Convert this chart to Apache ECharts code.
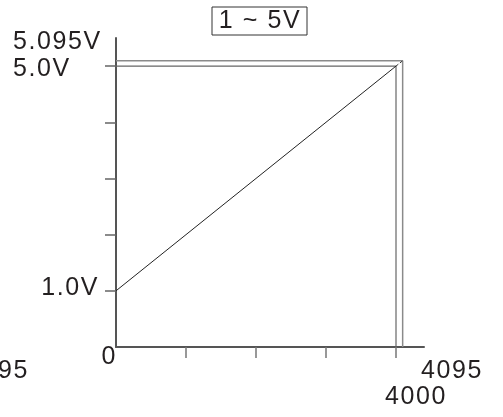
<!DOCTYPE html>
<html>
<head>
<meta charset="utf-8">
<script src="https://cdn.jsdelivr.net/npm/echarts@6/dist/echarts.min.js"></script>
<style>html,body{margin:0;padding:0;background:#fff;}#c{width:503px;height:417px;}</style>
</head>
<body>
<div id="c"></div>
<script>
// ---- data ----
const titleText = '1 ~ 5V';
const lineX = [0, 4000];
const lineY = [1.0, 5.0];
const overX = [4000, 4095];
const overY = [5.0, 5.095];
const fullScaleX = 4000, fullScaleY = 5.0;
const maxX = 4095, maxY = 5.095;
const xTickValues = [1000, 2000, 3000, 4000];
const yTickValues = [1, 2, 3, 4, 5];
const yLabels = { low: '1.0V', full: '5.0V', max: '5.095V' };
const xLabels = { zero: '0', full: '4000', max: '4095', clipped: '95' };

// letter spacing for text drawn on canvas
const _ft = CanvasRenderingContext2D.prototype.fillText;
CanvasRenderingContext2D.prototype.fillText = function (t, x, y) {
  this.letterSpacing = '1.6px';
  return _ft.call(this, t, x, y);
};

const FONT = 'Liberation Sans';
const TXT = '#231f20';
const chart = echarts.init(document.getElementById('c'), null, { renderer: 'canvas' });
const zip = (a, b) => a.map((v, i) => [v, b[i]]);

chart.setOption({
  animation: false,
  grid: { left: 116, right: 79, top: 38, bottom: 70, containLabel: false },
  xAxis: {
    type: 'value', min: 0, max: 4400,
    axisLine: { show: true, lineStyle: { color: '#555', width: 2 } },
    axisTick: { show: true, customValues: xTickValues, length: 11, inside: false, lineStyle: { color: '#777', width: 1.5 } },
    axisLabel: { show: false },
    splitLine: { show: false }
  },
  yAxis: {
    type: 'value', min: 0, max: 5.5,
    axisLine: { show: true, lineStyle: { color: '#555', width: 2 } },
    axisTick: { show: true, customValues: yTickValues, length: 11, inside: false, lineStyle: { color: '#666', width: 1.5 } },
    axisLabel: { show: false },
    splitLine: { show: false }
  },
  series: [
    { type: 'line', data: [[0, maxY], [maxX, maxY], [maxX, 0]], symbol: 'none',
      lineStyle: { color: '#8a8a8a', width: 1.5 }, z: 1 },
    { type: 'line', data: [[0, fullScaleY], [fullScaleX, fullScaleY], [fullScaleX, 0]], symbol: 'none',
      lineStyle: { color: '#666', width: 1.2 }, z: 2 },
    { type: 'line', data: zip(lineX, lineY), symbol: 'none',
      lineStyle: { color: '#222', width: 1 }, z: 3 },
    { type: 'line', data: zip(overX, overY), symbol: 'none',
      lineStyle: { color: '#333', width: 1, type: [3, 2] }, z: 3 }
  ]
});

const P = (x, y) => chart.convertToPixel({ gridIndex: 0 }, [x, y]);
const o = P(0, 0), pLow = P(0, lineY[0]), pFull = P(fullScaleX, fullScaleY);
const ts = (s, x, y, align) => ({
  type: 'text', x: x, y: y,
  style: { text: s, fontSize: 25, fontFamily: FONT, fill: TXT, align: align, verticalAlign: 'middle' }
});
chart.setOption({
  graphic: [
    { type: 'rect', shape: { x: 212, y: 7, width: 95, height: 28 },
      style: { fill: 'none', stroke: '#333', lineWidth: 1 } },
    ts(titleText, 260, 21, 'center'),
    ts(yLabels.max, 13, pFull[1] - 24, 'left'),
    ts(yLabels.full, 13, pFull[1] + 3.5, 'left'),
    ts(yLabels.low, o[0] - 17, pLow[1] - 3, 'right'),
    ts(xLabels.zero, o[0] + 1, o[1] + 10, 'right'),
    ts(xLabels.full, pFull[0] + 20, o[1] + 50, 'center'),
    ts(xLabels.max, pFull[0] + 56, o[1] + 24, 'center'),
    ts(xLabels.clipped, 29, o[1] + 24, 'right')
  ]
});
</script>
</body>
</html>
